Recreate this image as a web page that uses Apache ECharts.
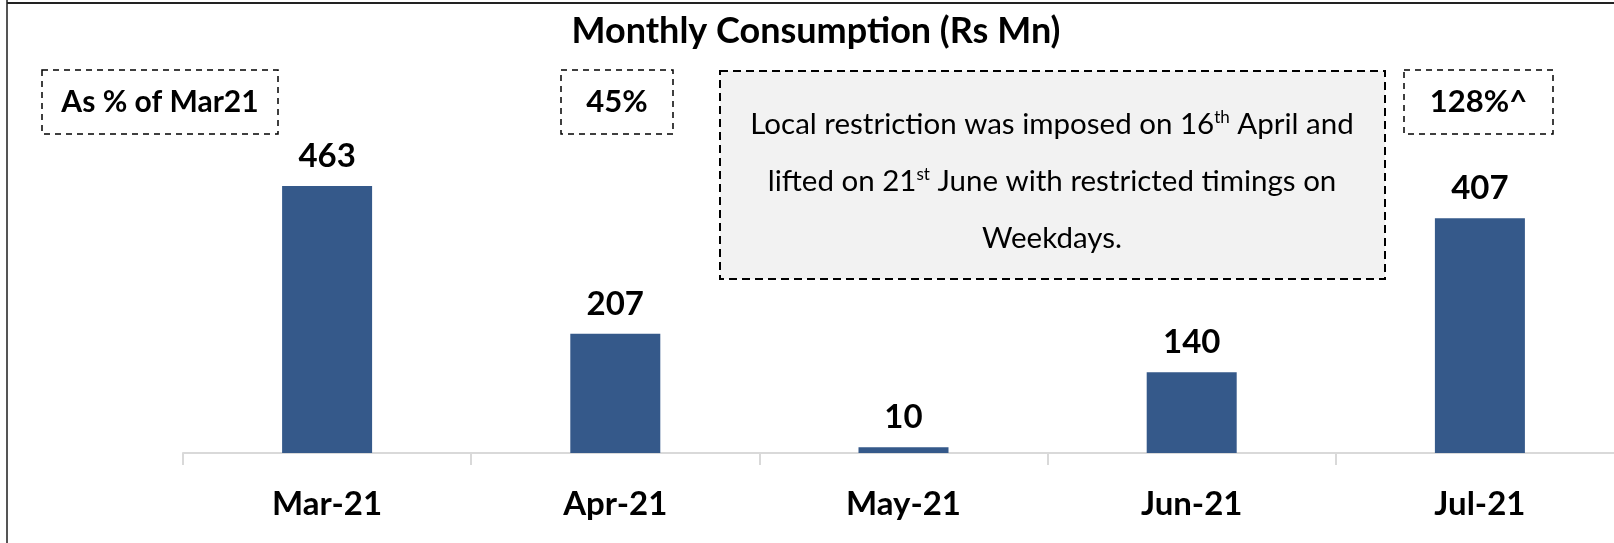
<!DOCTYPE html>
<html>
<head>
<meta charset="utf-8" />
<title>Monthly Consumption</title>
<script src="https://cdn.jsdelivr.net/npm/echarts@6/dist/echarts.min.js"></script>
<style>
  html, body { margin: 0; padding: 0; background: #fff; }
  #container { width: 1614px; height: 543px; }
</style>
</head>
<body>
<div id="container"></div>
<script type="text/javascript">
    // chart data
    var months = ['Mar-21', 'Apr-21', 'May-21', 'Jun-21', 'Jul-21'];
    var consumption = [463, 207, 10, 140, 407];
    var chartTitle = 'Monthly Consumption (Rs Mn)';
    var pctHeader = 'As % of Mar21';
    var pctApr = '45%';
    var pctJul = '128%^';
    var noteText = 'Local restriction was imposed on 16{sup|th} April and\n' +
        'lifted on 21{sup|st} June with restricted timings on\nWeekdays.';

    var font = 'Lato, "Noto Sans", sans-serif';
    var myChart = echarts.init(document.getElementById('container'));

    // dashed box with centred bold text
    function noteBox(x, y, w, h, txt, size) {
        return {
            type: 'group',
            children: [
                { type: 'rect', shape: { x: x, y: y, width: w, height: h },
                  style: { fill: '#fff', stroke: '#000', lineWidth: 1.5, lineDash: [6, 5] } },
                { type: 'text', x: x + w / 2, y: y + h / 2,
                  style: { text: txt, fontFamily: font, fontWeight: 'bold', fontSize: size,
                           fill: '#000', align: 'center', verticalAlign: 'middle' } }
            ]
        };
    }

    var option = {
        animation: false,
        grid: { left: 183, width: 1441, top: 107, bottom: 90, outerBoundsMode: 'none', containLabel: false },
        xAxis: {
            type: 'category',
            data: months,
            axisLine: { lineStyle: { color: '#d9d9d9', width: 2 } },
            axisTick: { show: true, length: 12, lineStyle: { color: '#d9d9d9', width: 2 } },
            axisLabel: { color: '#000', fontFamily: font, fontWeight: 'bold', fontSize: 33, margin: 35 }
        },
        yAxis: { type: 'value', min: 0, max: 600, show: false, splitLine: { show: false } },
        series: [{
            type: 'bar',
            data: consumption,
            barWidth: 90,
            itemStyle: { color: '#35598a' },
            label: {
                show: true, position: 'top', distance: 13,
                color: '#000', fontFamily: font, fontWeight: 'bold', fontSize: 33
            }
        }],
        graphic: [
            // frame lines
            { type: 'line', shape: { x1: 7, y1: 0, x2: 7, y2: 543 }, style: { stroke: '#555', lineWidth: 2 } },
            { type: 'line', shape: { x1: 7, y1: 3, x2: 1614, y2: 3 }, style: { stroke: '#222', lineWidth: 2 } },
            { type: 'text', x: 816, y: 31,
              style: { text: chartTitle, fontFamily: font, fontWeight: 'bold', fontSize: 36,
                       fill: '#000', align: 'center', verticalAlign: 'middle' } },
            noteBox(42, 70, 236, 64, pctHeader, 30),
            noteBox(561, 70, 112, 64, pctApr, 31),
            noteBox(1404, 70, 149, 64, pctJul, 31),
            {
                type: 'group',
                children: [
                    { type: 'rect', shape: { x: 720, y: 71, width: 665, height: 208 },
                      style: { fill: '#f2f2f2', stroke: '#000', lineWidth: 2, lineDash: [8, 5] } },
                    { type: 'text', x: 1052, y: 96,
                      style: {
                          text: noteText, fontFamily: font, fontSize: 29.5, fill: '#000',
                          align: 'center', verticalAlign: 'top', lineHeight: 57,
                          rich: { sup: { fontFamily: font, fontSize: 17, fill: '#000', padding: [0, 0, 14, 0] } }
                      } }
                ]
            }
        ]
    };
    myChart.setOption(option);
</script>
</body>
</html>
